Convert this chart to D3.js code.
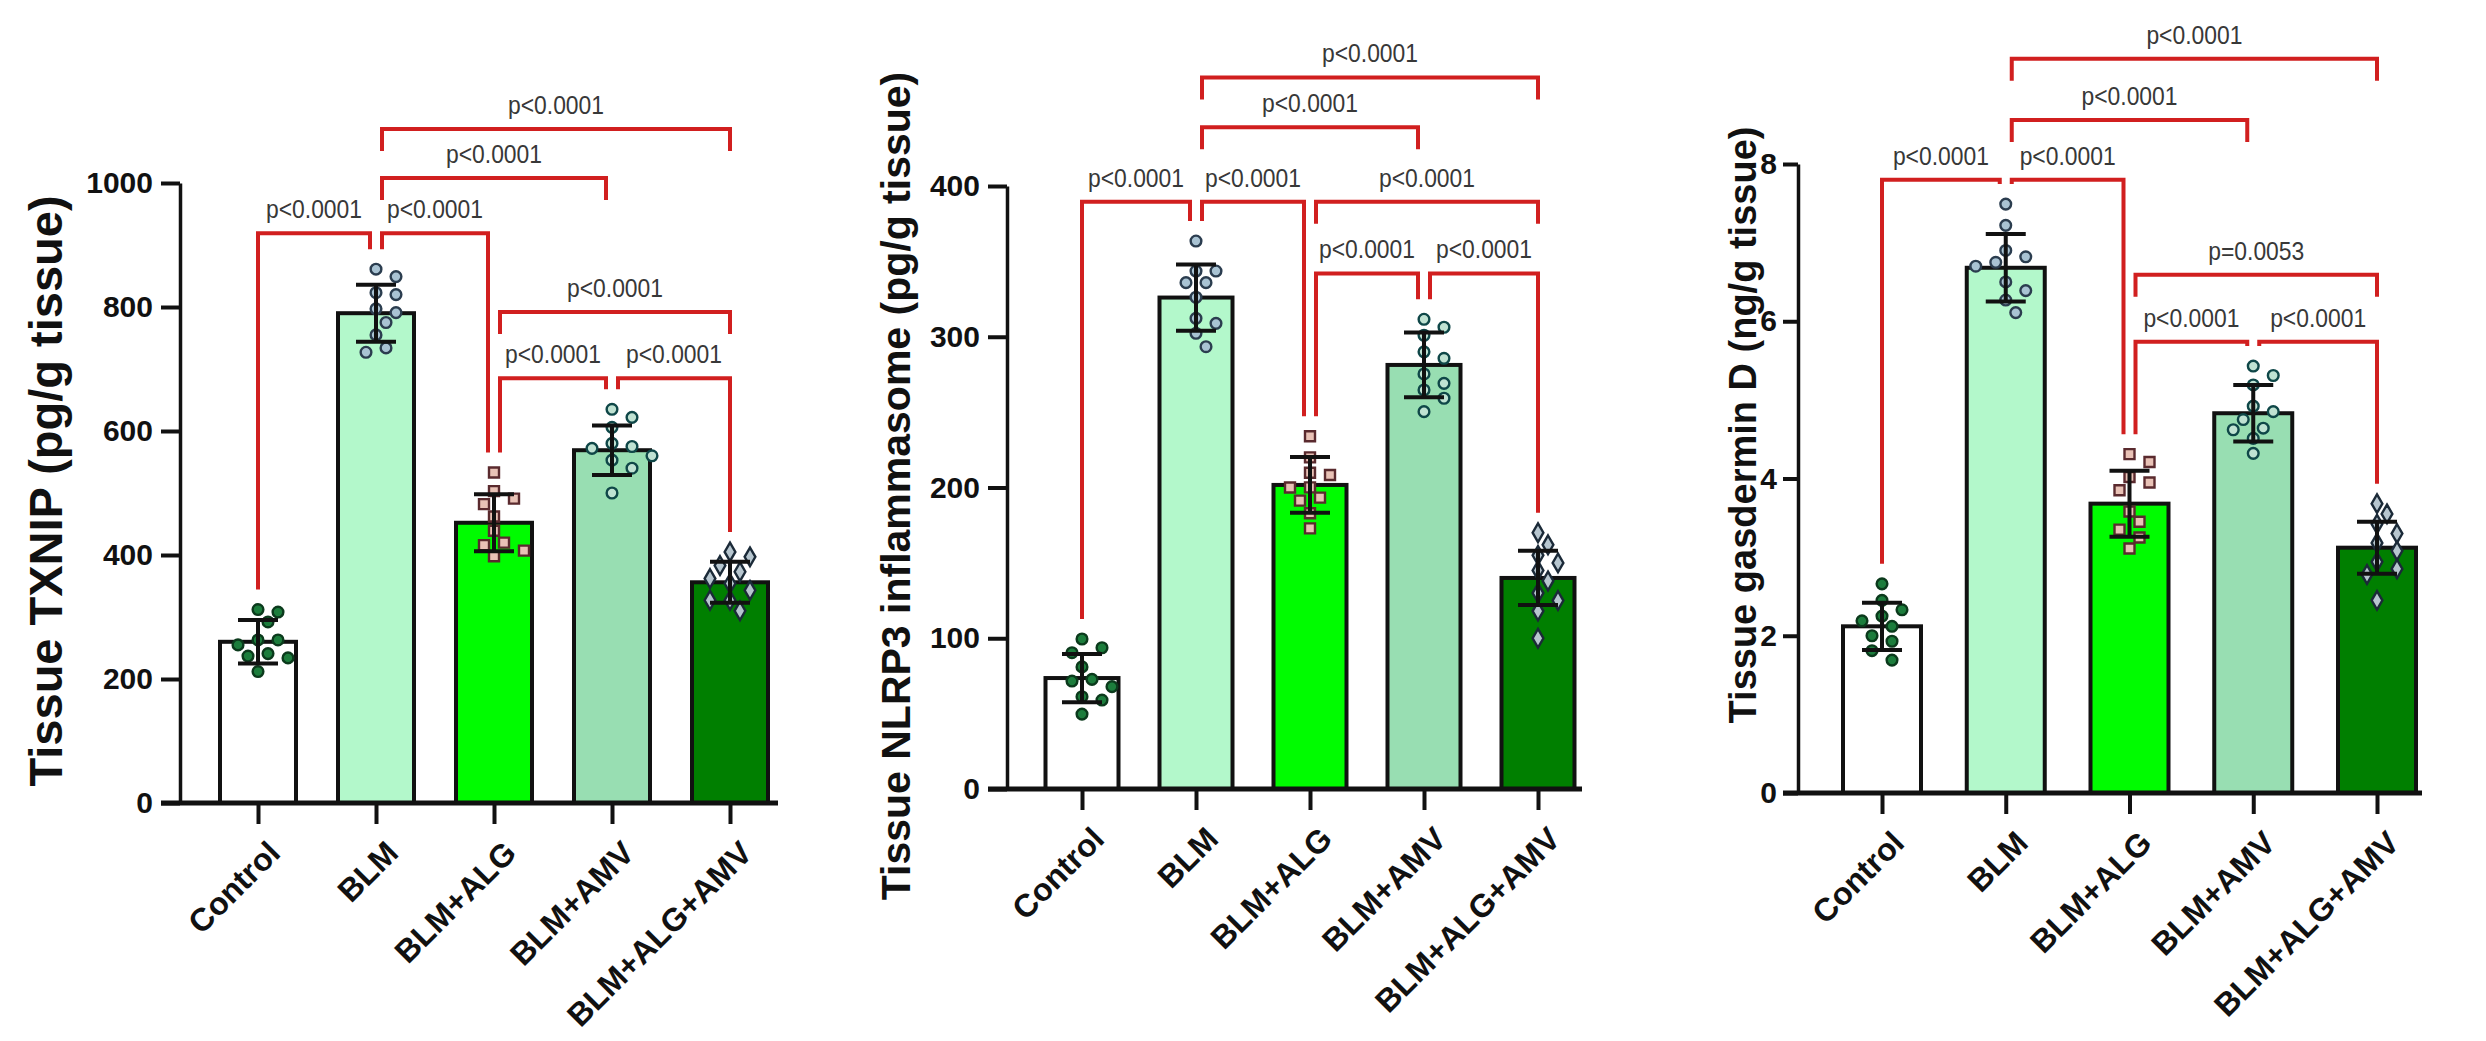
<!DOCTYPE html>
<html>
<head>
<meta charset="utf-8">
<script src="https://cdn.jsdelivr.net/npm/d3@7"></script>
<style>
  body { margin: 0; background: #fff; }
  svg { display: block; font-family: "Liberation Sans", Arial, sans-serif; }
</style>
</head>
<body>
<script>
// groups shared by all three panels
var groups = ["Control", "BLM", "BLM+ALG", "BLM+AMV", "BLM+ALG+AMV"];

// Panel A: tissue TXNIP (pg/g tissue)
var txnipMean = [260, 790, 452, 569, 356];
var txnipSD = [35, 46, 46, 40, 33];
var txnipDots = [
    [312, 308, 292, 263, 263, 255, 241, 237, 234, 212],
    [861, 849, 823, 820, 797, 791, 775, 755, 734, 727],
    [533, 503, 491, 482, 462, 439, 420, 416, 407, 398],
    [635, 622, 606, 580, 575, 572, 560, 553, 540, 500],
    [405, 397, 383, 373, 362, 354, 343, 327, 327, 310]
];
var txnipTicks = [0, 200, 400, 600, 800, 1000];
var txnipBrackets = [
    ["Control", "BLM", 919, "p<0.0001"],
    ["BLM", "BLM+ALG", 919, "p<0.0001"],
    ["BLM", "BLM+AMV", 1008, "p<0.0001"],
    ["BLM", "BLM+ALG+AMV", 1087, "p<0.0001"],
    ["BLM+ALG", "BLM+ALG+AMV", 792, "p<0.0001"],
    ["BLM+ALG", "BLM+AMV", 685, "p<0.0001"],
    ["BLM+AMV", "BLM+ALG+AMV", 685, "p<0.0001"]
];

// Panel B: tissue NLRP3 inflammasome (pg/g tissue)
var nlrpMean = [73.6, 326, 201.7, 281.3, 140];
var nlrpSD = [16, 22, 18.5, 21.5, 18];
var nlrpDots = [
    [99.5, 93.7, 90.4, 81, 72.7, 71.6, 67.9, 61.2, 59, 49.7],
    [363.5, 343.6, 343.6, 335.9, 335.9, 326.2, 312.2, 308.9, 302.3, 293.4],
    [234, 220, 209.8, 208.3, 200.1, 200, 193.3, 191.3, 182.9, 172.9],
    [311.6, 306.3, 301, 290, 285.7, 275.3, 269.1, 264.7, 259.2, 250.3],
    [170, 162, 155, 150, 145, 138, 130, 125, 118, 100]
];
var nlrpTicks = [0, 100, 200, 300, 400];
var nlrpBrackets = [
    ["Control", "BLM", 389.6, "p<0.0001"],
    ["BLM", "BLM+ALG", 389.6, "p<0.0001"],
    ["BLM", "BLM+AMV", 439, "p<0.0001"],
    ["BLM", "BLM+ALG+AMV", 472, "p<0.0001"],
    ["BLM+ALG", "BLM+ALG+AMV", 389.6, "p<0.0001"],
    ["BLM+ALG", "BLM+AMV", 342, "p<0.0001"],
    ["BLM+AMV", "BLM+ALG+AMV", 342, "p<0.0001"]
];

// Panel C: tissue gasdermin D (ng/g tissue)
var gsdmMean = [2.12, 6.68, 3.68, 4.83, 3.12];
var gsdmSD = [0.30, 0.43, 0.42, 0.36, 0.33];
var gsdmDots = [
    [2.66, 2.45, 2.33, 2.25, 2.19, 2.12, 2.00, 1.93, 1.81, 1.69],
    [7.49, 7.22, 6.90, 6.82, 6.75, 6.70, 6.50, 6.39, 6.27, 6.11],
    [4.31, 4.21, 4.02, 3.95, 3.85, 3.58, 3.45, 3.35, 3.25, 3.11],
    [5.43, 5.31, 5.19, 4.92, 4.85, 4.75, 4.64, 4.62, 4.51, 4.32],
    [3.68, 3.55, 3.42, 3.30, 3.18, 3.08, 2.94, 2.85, 2.78, 2.45]
];
var gsdmTicks = [0, 2, 4, 6, 8];
var gsdmBrackets = [
    ["Control", "BLM", 7.80, "p<0.0001"],
    ["BLM", "BLM+ALG", 7.80, "p<0.0001"],
    ["BLM", "BLM+AMV", 8.56, "p<0.0001"],
    ["BLM", "BLM+ALG+AMV", 9.34, "p<0.0001"],
    ["BLM+ALG", "BLM+ALG+AMV", 6.59, "p=0.0053"],
    ["BLM+ALG", "BLM+AMV", 5.74, "p<0.0001"],
    ["BLM+AMV", "BLM+ALG+AMV", 5.74, "p<0.0001"]
];

// styles per group
var barFill = ["#ffffff", "#b3f8cb", "#00fc00", "#98deb2", "#007f00"];
var dotShape = [d3.symbolCircle, d3.symbolCircle, d3.symbolSquare, d3.symbolCircle, d3.symbolDiamond];
var dotFill = ["#1c7d3c", "#a9c3d3", "#e9c2b6", "#bfe2d2", "#b7c6cf"];
var dotStroke = ["#0b3a1c", "#2b3d4f", "#5a2a2e", "#0f4748", "#1b2a38"];

var W = 2486, H = 1041;
var svg = d3.select("body").append("svg")
            .attr("width", W)
            .attr("height", H);

function drawPanel(p){
    var g = svg.append("g");

    var y = d3.scaleLinear()
              .domain([0, p.ticks[p.ticks.length - 1]])
              .range([p.y0, p.yTop]);

    var x = d3.scalePoint()
              .domain(groups)
              .range([p.xFirst, p.xLast]);

    // y axis
    var yAxis = d3.axisLeft(y)
                  .tickValues(p.ticks)
                  .tickFormat(d3.format("d"))
                  .tickSizeInner(p.tickLen)
                  .tickSizeOuter(0)
                  .tickPadding(p.tickPad);
    var ya = g.append("g")
              .attr("transform", "translate(" + p.axisX + ",0)")
              .call(yAxis);
    ya.select(".domain").attr("stroke", "#111").attr("stroke-width", 3.5);
    ya.selectAll(".tick line").attr("stroke", "#111").attr("stroke-width", 4);
    ya.selectAll(".tick text")
      .attr("fill", "#111")
      .attr("font-size", "30px")
      .attr("font-weight", "bold")
      .attr("font-family", "Liberation Sans, Arial, sans-serif");

    // y title
    g.append("text")
     .attr("transform", "translate(" + p.titleX + "," + p.titleY + ") rotate(-90)")
     .attr("text-anchor", "middle")
     .attr("font-size", p.titleSize + "px")
     .attr("font-weight", "bold")
     .attr("fill", "#111")
     .text(p.title);

    // bars
    var bw = p.barW;
    g.selectAll("rect.bar")
     .data(groups)
     .enter()
     .append("rect")
     .attr("class", "bar")
     .attr("x", function(d){ return x(d) - bw / 2; })
     .attr("y", function(d, i){ return y(p.mean[i]); })
     .attr("width", bw)
     .attr("height", function(d, i){ return p.y0 - y(p.mean[i]); })
     .attr("fill", function(d, i){ return barFill[i]; })
     .attr("stroke", "#111")
     .attr("stroke-width", 4);

    // x axis line and ticks
    var xAxis = d3.axisBottom(x).tickSize(21).tickFormat("");
    var xa = g.append("g")
              .attr("transform", "translate(0," + p.y0 + ")")
              .call(xAxis);
    xa.select(".domain").remove();
    xa.selectAll(".tick line").attr("stroke", "#111").attr("stroke-width", 4);
    g.append("line")
     .attr("x1", p.axisX - p.tickLen)
     .attr("x2", p.xEnd)
     .attr("y1", p.y0)
     .attr("y2", p.y0)
     .attr("stroke", "#111")
     .attr("stroke-width", 5);

    // rotated category labels
    g.selectAll("text.cat")
     .data(groups)
     .enter()
     .append("text")
     .attr("class", "cat")
     .attr("transform", function(d){
         return "translate(" + (x(d) + 24) + "," + (p.y0 + 52) + ") rotate(-45)";
     })
     .attr("text-anchor", "end")
     .attr("font-size", "32px")
     .attr("font-weight", "bold")
     .attr("fill", "#111")
     .text(function(d){ return d; });

    // scatter points, simple beeswarm so they do not overlap
    groups.forEach(function(grp, i){
        var vals = p.dots[i].slice().sort(function(a, b){ return b - a; });
        var placed = [];
        var step = 10, minD = 14;
        vals.forEach(function(v){
            var py = y(v);
            var ks = [0, 1, -1, 2, -2, 3, -3, 4, -4];
            for (var k = 0; k < ks.length; k++){
                var px = x(grp) + ks[k] * step;
                var ok = placed.every(function(q){
                    return Math.hypot(q[0] - px, q[1] - py) >= minD;
                });
                if (ok){ placed.push([px, py]); break; }
            }
        });
        g.selectAll(null)
         .data(placed)
         .enter()
         .append("path")
         .attr("transform", function(d){ return "translate(" + d[0] + "," + d[1] + ")"; })
         .attr("d", d3.symbol().type(dotShape[i]).size(dotShape[i] === d3.symbolCircle ? 90 : 100))
         .attr("fill", dotFill[i])
         .attr("stroke", dotStroke[i])
         .attr("stroke-width", 2.4);
    });

    // error bars (mean +/- SD)
    groups.forEach(function(grp, i){
        var cx = x(grp);
        var top = y(p.mean[i] + p.sd[i]);
        var bot = y(p.mean[i] - p.sd[i]);
        var eb = g.append("g").attr("stroke", "#111").attr("stroke-width", 4);
        eb.append("line").attr("x1", cx).attr("x2", cx).attr("y1", top).attr("y2", bot);
        eb.append("line").attr("x1", cx - 20).attr("x2", cx + 20).attr("y1", top).attr("y2", top);
        eb.append("line").attr("x1", cx - 20).attr("x2", cx + 20).attr("y1", bot).attr("y2", bot);
    });

    // significance brackets
    function topOf(i){
        return y(Math.max(d3.max(p.dots[i]), p.mean[i] + p.sd[i]));
    }
    p.brackets.forEach(function(b){
        var i = groups.indexOf(b[0]);
        var j = groups.indexOf(b[1]);
        var endsAtI = p.brackets.some(function(e){ return e[1] === b[0]; });
        var startsAtJ = p.brackets.some(function(e){ return e[0] === b[1]; });
        var xl = x(b[0]) + (endsAtI ? 6 : 0);
        var xr = x(b[1]) - (startsAtJ ? 6 : 0);
        var yl = y(b[2]);
        var bl, br;
        if (j - i === 1){
            bl = topOf(i) - 20;
            br = topOf(j) - 20;
        } else {
            bl = yl + 22;
            br = yl + 22;
        }
        g.append("path")
         .attr("d", "M" + xl + "," + bl + "V" + yl + "H" + xr + "V" + br)
         .attr("fill", "none")
         .attr("stroke", "#d11f1f")
         .attr("stroke-width", 4);
        g.append("text")
         .attr("transform", "translate(" + ((xl + xr) / 2) + "," + (yl - 15) + ") scale(0.88,1)")
         .attr("text-anchor", "middle")
         .attr("font-size", "26px")
         .attr("fill", "#383838")
         .text(b[3]);
    });
}

drawPanel({
    mean: txnipMean, sd: txnipSD, dots: txnipDots, ticks: txnipTicks, brackets: txnipBrackets,
    title: "Tissue TXNIP (pg/g tissue)", titleX: 62, titleY: 491, titleSize: 47,
    axisX: 180, y0: 803, yTop: 183, xFirst: 258, xLast: 730, xEnd: 778, barW: 76,
    tickLen: 19, tickPad: 8
});

drawPanel({
    mean: nlrpMean, sd: nlrpSD, dots: nlrpDots, ticks: nlrpTicks, brackets: nlrpBrackets,
    title: "Tissue NLRP3 inflammasome (pg/g tissue)", titleX: 910, titleY: 486, titleSize: 41,
    axisX: 1007, y0: 789, yTop: 186, xFirst: 1082, xLast: 1538, xEnd: 1582, barW: 73,
    tickLen: 19, tickPad: 8
});

drawPanel({
    mean: gsdmMean, sd: gsdmSD, dots: gsdmDots, ticks: gsdmTicks, brackets: gsdmBrackets,
    title: "Tissue gasdermin D (ng/g tissue)", titleX: 1756, titleY: 425, titleSize: 38,
    axisX: 1798, y0: 793, yTop: 164, xFirst: 1882, xLast: 2377, xEnd: 2422, barW: 78,
    tickLen: 15, tickPad: 6
});
</script>
</body>
</html>
